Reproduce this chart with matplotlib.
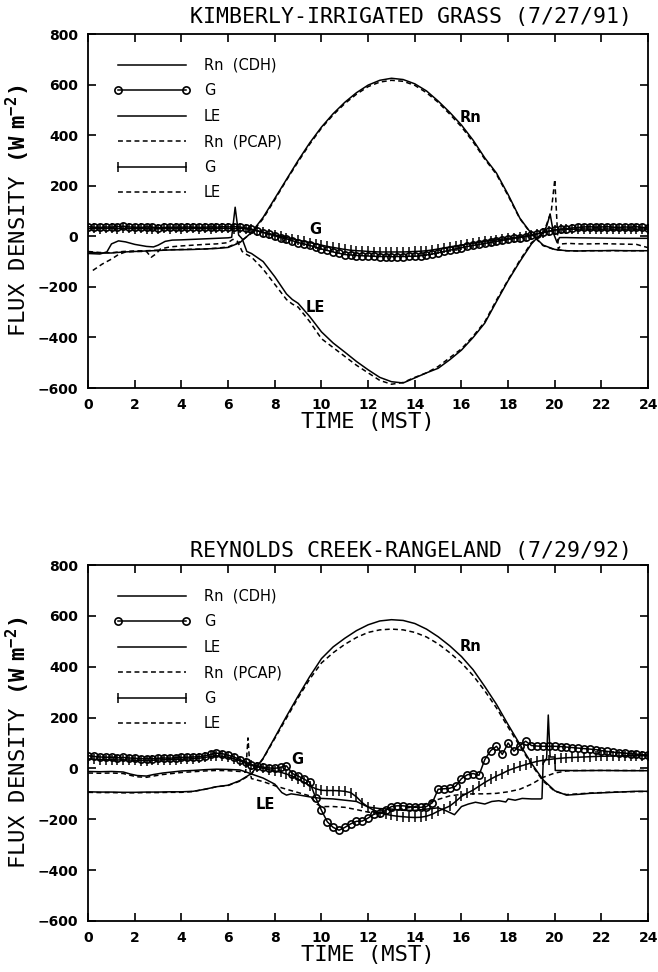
import numpy as np
import matplotlib
matplotlib.use("Agg")
import matplotlib.pyplot as plt

plt.rcParams['font.family'] = ['DejaVu Sans']
plt.rcParams['mathtext.fontset'] = 'custom'
plt.rcParams['mathtext.bf'] = 'DejaVu Sans Mono:bold'
plt.rcParams['mathtext.rm'] = 'DejaVu Sans Mono'

# ---------------- shared ----------------
xticks = [0, 2, 4, 6, 8, 10, 12, 14, 16, 18, 20, 22, 24]
yticks = [-600, -400, -200, 0, 200, 400, 600, 800]
legend_labels = ["Rn  (CDH)", "G", "LE", "Rn  (PCAP)", "G", "LE"]

# 15-minute time grid for the soil heat flux series
t_g = np.arange(0, 24.01, 0.25)
# half-hour grid for net radiation
t_rn = np.arange(0, 24.01, 0.5)

# ---------------- Kimberly (top) ----------------
kim_title = "KIMBERLY-IRRIGATED GRASS (7/27/91)"

kim_rn_cdh = [-62, -66, -66, -62, -60, -58, -56, -54, -53, -52, -50, -48, -44, -25,
              15, 75, 150, 225, 300, 370, 432, 485, 530, 568, 598, 617, 625, 620,
              603, 575, 535, 490, 440, 380, 310, 250, 165, 72, 10, -35, -52, -57,
              -58, -57, -57, -56, -57, -57, -57]
kim_rn_pcap = [-60, -64, -65, -60, -58, -57, -55, -53, -52, -51, -50, -47, -42, -22,
               12, 70, 145, 222, 295, 365, 428, 480, 525, 562, 592, 610, 617, 613,
               597, 568, 530, 483, 433, 373, 305, 245, 160, 70, 8, -37, -53, -57,
               -58, -57, -57, -57, -57, -57, -57]

kim_g_cdh = [38, 36, 35, 37, 36, 38, 40, 37, 36, 35, 37, 36, 34, 35, 36, 35,
             36, 37, 36, 35, 36, 37, 36, 38, 37, 38, 37, 33, 28, 22, 15, 8,
             2, -5, -10, -17, -25, -30, -36, -43, -50, -56, -62, -67, -72, -74, -76, -77,
             -78, -79, -80, -80, -81, -80, -80, -79, -79, -77, -74, -70, -65, -60, -55, -50,
             -45, -40, -36, -32, -28, -24, -20, -16, -12, -8, -5, -1, 4, 10, 16, 20,
             25, 28, 30, 33, 35, 37, 38, 36, 37, 38, 36, 35, 37, 36, 38, 35, 34]
kim_g_pcap = [30, 31, 30, 32, 31, 30, 32, 31, 30, 31, 30, 29, 30, 31, 30, 31,
              30, 31, 32, 30, 31, 30, 31, 32, 31, 30, 32, 30, 27, 22, 16, 11,
              6, 0, -5, -10, -15, -20, -25, -30, -35, -40, -44, -48, -52, -55, -57, -58,
              -60, -61, -62, -62, -62, -62, -62, -61, -60, -59, -57, -54, -50, -46, -42, -38,
              -35, -31, -28, -24, -20, -17, -14, -11, -8, -5, -2, 1, 5, 10, 15, 20,
              25, 27, 28, 28, 28, 29, 28, 29, 28, 29, 28, 29, 28, 29, 28, 29, 28]

kim_le_cdh_t = [0, 0.5, 0.8, 1.0, 1.3, 1.6, 2.0, 2.5, 2.8, 3.0, 3.3, 3.6, 4.0, 4.5, 5.0,
                5.5, 6.0, 6.15, 6.3, 6.45, 6.6, 6.8, 7.0, 7.5, 8.0, 8.5, 8.75, 9.0, 9.5,
                10, 10.5, 11, 11.5, 12, 12.5, 13, 13.5, 14, 14.5, 15, 15.5, 16, 16.5, 17,
                17.5, 18, 18.5, 19, 19.25, 19.5, 19.65, 19.8, 19.95, 20.1, 20.2, 20.5,
                21, 22, 23, 24]
kim_le_cdh = [-68, -70, -62, -30, -18, -22, -32, -40, -42, -35, -20, -15, -14, -12, -10,
              -8, -6, -4, 115, 5, -10, -60, -68, -100, -160, -228, -250, -265, -318,
              -378, -422, -458, -495, -528, -558, -575, -580, -560, -540, -522, -488,
              -450, -400, -343, -258, -175, -100, -30, -5, 15, 40, 88, 10, -25, -5, -5,
              -6, -7, -8, -8]
kim_le_pcap_t = [0.2, 0.6, 1.0, 1.3, 1.6, 2.0, 2.5, 2.7, 2.9, 3.1, 3.5, 4.0, 4.5, 5.0,
                 5.5, 6.0, 6.2, 6.4, 6.6, 6.75, 7.0, 7.5, 8, 8.5, 8.75, 9, 9.5, 10, 10.5,
                 11, 11.5, 12, 12.5, 13, 13.5, 14, 14.5, 15, 15.5, 16, 16.5, 17, 17.5,
                 18, 18.5, 19, 19.5, 19.85, 20.0, 20.15, 20.3, 20.6, 21, 21.5, 22, 22.5,
                 23, 23.5, 24]
kim_le_pcap = [-135, -110, -90, -72, -62, -60, -60, -83, -70, -50, -42, -38, -35, -32,
               -30, -25, -12, -20, -60, -70, -82, -130, -190, -250, -268, -280, -338,
               -405, -440, -475, -510, -540, -570, -585, -578, -558, -540, -515, -480,
               -445, -395, -338, -252, -172, -95, -25, 8, 100, 225, -50, -30, -28, -30,
               -30, -29, -30, -31, -32, -45]

# ---------------- Reynolds Creek (bottom) ----------------
rey_title = "REYNOLDS CREEK-RANGELAND (7/29/92)"

rey_rn_cdh = [-92, -93, -93, -94, -94, -93, -93, -92, -92, -90, -82, -72, -66, -48,
              -20, 40, 122, 205, 285, 362, 432, 478, 512, 542, 565, 580, 585, 582,
              570, 548, 518, 482, 440, 388, 322, 252, 172, 95, 20, -45, -88, -105,
              -102, -98, -96, -94, -92, -90, -90]
rey_rn_pcap = [-94, -95, -95, -96, -96, -95, -95, -94, -94, -91, -82, -72, -67, -50,
               -22, 38, 118, 198, 278, 352, 415, 455, 488, 515, 535, 545, 548, 545,
               535, 517, 490, 455, 415, 365, 305, 238, 162, 88, 15, -50, -90, -103,
               -100, -97, -95, -93, -92, -91, -91]

rey_g_cdh = [50, 47, 45, 44, 44, 42, 43, 41, 40, 38, 39, 38, 40, 41, 40, 42,
             43, 44, 45, 46, 50, 55, 60, 58, 52, 45, 35, 25, 15, 10, 5, 2,
             0, 5, 10, -20, -30, -42, -55, -115, -165, -210, -232, -243, -232, -218, -208, -207,
             -195, -180, -175, -165, -150, -147, -147, -150, -153, -153, -150, -135, -82, -80, -78, -70,
             -40, -25, -20, -27, 35, 70, 87, 55, 100, 68, 90, 107, 90, 88, 87, 87,
             87, 86, 84, 82, 80, 78, 76, 74, 70, 67, 64, 62, 60, 58, 56, 54, 52]
rey_g_pcap = [38, 36, 35, 35, 34, 33, 34, 33, 32, 31, 31, 32, 33, 34, 34, 35,
              36, 37, 38, 40, 43, 47, 50, 48, 44, 38, 30, 20, 12, 6, 0, -5,
              -10, -15, -22, -30, -42, -55, -68, -80, -86, -87, -87, -88, -90, -95, -112, -135,
              -152, -165, -175, -180, -185, -188, -190, -192, -193, -192, -188, -180, -168, -158, -148, -130,
              -110, -97, -85, -70, -55, -42, -30, -20, -8, 0, 8, 15, 22, 28, 32, 35,
              38, 40, 42, 43, 44, 45, 46, 47, 48, 48, 49, 49, 50, 50, 50, 50, 50]

rey_le_cdh_t = [0, 0.5, 1, 1.5, 1.8, 2.1, 2.5, 2.8, 3.2, 3.6, 4, 4.5, 5, 5.5, 6, 6.5,
                6.8, 7.0, 7.5, 8.0, 8.3, 8.5, 8.7, 9.0, 9.5, 10, 10.5, 11, 11.5, 12,
                12.5, 13, 13.5, 14, 14.5, 15, 15.3, 15.7, 16.0, 16.3, 16.6, 17.0, 17.3,
                17.6, 17.9, 18.0, 18.3, 18.6, 19.0, 19.4, 19.45, 19.5, 19.65, 19.72,
                19.8, 20.0, 20.02, 20.5, 21, 22, 23, 24]
rey_le_cdh = [-12, -13, -12, -14, -22, -28, -30, -24, -18, -14, -10, -8, -5, -3, -4, -6,
              -15, -22, -38, -62, -95, -105, -100, -104, -112, -118, -120, -125, -130,
              -152, -158, -160, -165, -165, -160, -155, -165, -182, -150, -140, -133,
              -140, -130, -127, -132, -120, -125, -118, -120, -120, -118, 20, 40, 210,
              45, 45, -8, -8, -9, -8, -9, -9]
rey_le_pcap_t = [0, 0.5, 1, 1.5, 1.8, 2.1, 2.5, 2.8, 3.2, 3.6, 4, 4.5, 5, 5.5, 6, 6.5,
                 6.75, 6.85, 6.95, 7.0, 7.5, 8.0, 8.5, 9.0, 9.5, 9.8, 10, 10.5, 11, 11.5,
                 12, 12.5, 13, 13.5, 14, 14.5, 15, 15.5, 16, 16.5, 17, 17.5, 18, 18.5,
                 19, 19.5, 20, 20.5, 21, 22, 23, 24]
rey_le_pcap = [-18, -19, -18, -20, -27, -33, -35, -30, -24, -20, -16, -13, -10, -8, -9,
               -12, -15, 120, -20, -40, -52, -68, -82, -95, -108, -140, -150, -150, -153,
               -162, -172, -175, -168, -158, -150, -138, -122, -108, -102, -100, -100,
               -98, -92, -82, -62, -35, -18, -10, -8, -8, -8, -8]

# annotation labels: (text, x, y)
kim_labels = [("Rn", 16.4, 468), ("G", 9.75, 28), ("LE", 9.75, -283)]
rey_labels = [("Rn", 16.4, 478), ("G", 8.95, 34), ("LE", 7.6, -140)]

LW = 1.1
DASH = (3.2, 2.2)
MONO = 'DejaVu Sans Mono'


def draw(ax, title, rn_c, rn_p, g_c, g_p, le_c_t, le_c, le_p_t, le_p, labels, fig, ytitle):
    k = 'black'
    h1, = ax.plot(t_rn, rn_c, color=k, lw=LW)
    h4, = ax.plot(t_rn, rn_p, color=k, lw=LW, dashes=DASH)
    h3, = ax.plot(le_c_t, le_c, color=k, lw=LW)
    h6, = ax.plot(le_p_t, le_p, color=k, lw=LW, dashes=DASH)
    h5, = ax.plot(t_g, g_p, color=k, lw=LW, marker='|', ms=6.5, mew=1.1)
    h2, = ax.plot(t_g, g_c, color=k, lw=LW, marker='o', ms=5.2, mfc='none', mew=1.2)

    ax.set_xlim(0, 24)
    ax.set_ylim(-600, 800)
    ax.set_xticks(xticks)
    ax.set_yticks(yticks)
    ax.tick_params(direction='in', top=True, right=True, length=6, width=1.2,
                   labelsize=10, pad=7)
    for lab in ax.get_xticklabels() + ax.get_yticklabels():
        lab.set_fontweight('bold')
    for s in ax.spines.values():
        s.set_linewidth(1.3)
    ax.set_xlabel("TIME (MST)", fontsize=16, family=MONO, labelpad=0)
    ax.set_ylabel(r"FLUX DENSITY $\mathbf{(W\ m^{-2})}$", fontsize=16, family=MONO,
                  labelpad=4)

    for txt, x, y in labels:
        ax.text(x, y, txt, fontsize=10.5, fontweight='bold', ha='center', va='center')

    ax.legend([h1, h2, h3, h4, h5, h6], legend_labels, loc='upper left',
              bbox_to_anchor=(0.045, 0.933), frameon=False, handlelength=5.3,
              handletextpad=0.9, labelspacing=0.72, numpoints=2,
              prop={'size': 10.5},
              borderpad=0, borderaxespad=0)
    fig.text(0.625, ytitle, title, fontsize=15.5, family=MONO, ha='center', va='center')


fig = plt.figure(figsize=(6.58, 9.72), dpi=100)
ax1 = fig.add_axes([0.134, 0.6008, 0.851, 0.3642])
ax2 = fig.add_axes([0.134, 0.0525, 0.851, 0.3662])

draw(ax1, kim_title, kim_rn_cdh, kim_rn_pcap, kim_g_cdh, kim_g_pcap,
     kim_le_cdh_t, kim_le_cdh, kim_le_pcap_t, kim_le_pcap, kim_labels, fig, 1 - 17 / 972)
draw(ax2, rey_title, rey_rn_cdh, rey_rn_pcap, rey_g_cdh, rey_g_pcap,
     rey_le_cdh_t, rey_le_cdh, rey_le_pcap_t, rey_le_pcap, rey_labels, fig, 1 - 551 / 972)

fig.savefig("out.png", dpi=100)
